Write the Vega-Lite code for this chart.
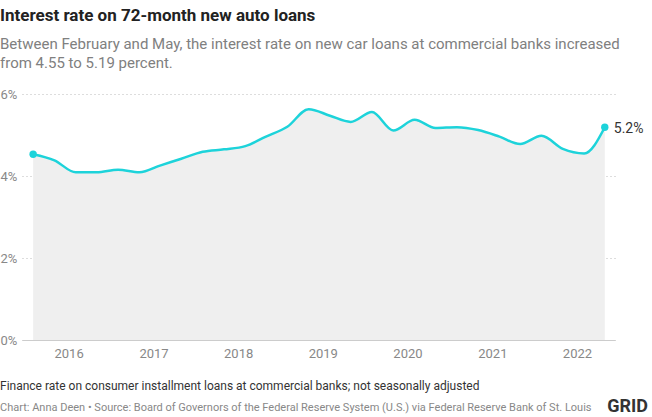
{
  "$schema": "https://vega.github.io/schema/vega-lite/v6.json",
  "width": 593,
  "height": 246,
  "autosize": {"type": "none"},
  "padding": {"left": 22, "top": 94, "right": 37, "bottom": 77},
  "background": "white",
  "config": {"font": "Roboto", "view": {"stroke": null}},
  "title": {
    "text": "Interest rate on 72-month new auto loans",
    "subtitle": ["Between February and May, the interest rate on new car loans at commercial banks increased", "from 4.55 to 5.19 percent."],
    "anchor": "start",
    "frame": "group",
    "dx": -22,
    "offset": 16,
    "fontSize": 17,
    "fontWeight": "bold",
    "color": "#222222",
    "subtitleFont": "Roboto",
    "subtitleFontSize": 15,
    "subtitleColor": "#808080",
    "subtitlePadding": 12,
    "subtitleLineHeight": 19
  },
  "data": {
    "values": [
      {"date": "2015-08-01", "rate": 0.0453},
      {"date": "2015-11-01", "rate": 0.0438},
      {"date": "2016-02-01", "rate": 0.0409},
      {"date": "2016-05-01", "rate": 0.0409},
      {"date": "2016-08-01", "rate": 0.0415},
      {"date": "2016-11-01", "rate": 0.0409},
      {"date": "2017-02-01", "rate": 0.0426},
      {"date": "2017-05-01", "rate": 0.0442},
      {"date": "2017-08-01", "rate": 0.0459},
      {"date": "2017-11-01", "rate": 0.0465},
      {"date": "2018-02-01", "rate": 0.0473},
      {"date": "2018-05-01", "rate": 0.0496},
      {"date": "2018-08-01", "rate": 0.0520},
      {"date": "2018-11-01", "rate": 0.0563},
      {"date": "2019-02-01", "rate": 0.0547},
      {"date": "2019-05-01", "rate": 0.0532},
      {"date": "2019-08-01", "rate": 0.0556},
      {"date": "2019-11-01", "rate": 0.0511},
      {"date": "2020-02-01", "rate": 0.0537},
      {"date": "2020-05-01", "rate": 0.0517},
      {"date": "2020-08-01", "rate": 0.0519},
      {"date": "2020-11-01", "rate": 0.0512},
      {"date": "2021-02-01", "rate": 0.0496},
      {"date": "2021-05-01", "rate": 0.0478},
      {"date": "2021-08-01", "rate": 0.0498},
      {"date": "2021-11-01", "rate": 0.0466},
      {"date": "2022-02-01", "rate": 0.0455},
      {"date": "2022-05-01", "rate": 0.0519}
    ]
  },
  "layer": [
    {
      "mark": {"type": "area", "interpolate": "monotone", "color": "#efefef"},
      "encoding": {
        "x": {
          "field": "date", "type": "temporal",
          "scale": {"domain": [{"year": 2015, "month": 6, "date": 14}, {"year": 2022, "month": 6, "date": 14}]},
          "axis": {"title": null, "format": "%Y", "tickCount": "year", "grid": false, "ticks": false, "domainColor": "#cccccc", "labelColor": "#888888", "labelFontSize": 13, "labelPadding": 7}
        },
        "y": {
          "field": "rate", "type": "quantitative",
          "scale": {"domain": [0, 0.06], "nice": false},
          "axis": {"title": null, "format": ".0%", "values": [0, 0.02, 0.04, 0.06], "grid": true, "gridDash": [1, 3], "gridColor": "#bbbbbb", "domain": false, "ticks": false, "labelAlign": "left", "labelPadding": 22, "labelColor": "#888888", "labelFontSize": 13, "labelBaseline": "middle"}
        }
      }
    },
    {
      "mark": {"type": "line", "interpolate": "monotone", "color": "#1dd3da", "strokeWidth": 2.5},
      "encoding": {
        "x": {"field": "date", "type": "temporal"},
        "y": {"field": "rate", "type": "quantitative"}
      }
    },
    {
      "transform": [{"filter": "datum.date <= datetime(2015, 8, 15) || datum.date >= datetime(2022, 3, 15)"}],
      "mark": {"type": "circle", "color": "#1dd3da", "opacity": 1, "size": 55},
      "encoding": {
        "x": {"field": "date", "type": "temporal"},
        "y": {"field": "rate", "type": "quantitative"}
      }
    },
    {
      "transform": [{"filter": "datum.date >= datetime(2022, 3, 15)"}],
      "mark": {"type": "text", "align": "left", "baseline": "middle", "dx": 9, "dy": 2, "fontSize": 14, "color": "#333333"},
      "encoding": {
        "x": {"field": "date", "type": "temporal"},
        "y": {"field": "rate", "type": "quantitative"},
        "text": {"field": "rate", "type": "quantitative", "format": ".1%"}
      }
    },
    {
      "data": {"values": [{"t": "Finance rate on consumer installment loans at commercial banks; not seasonally adjusted"}]},
      "mark": {"type": "text", "align": "left", "baseline": "middle", "x": -22, "y": 292, "fontSize": 12, "color": "#333333"},
      "encoding": {"text": {"field": "t"}}
    },
    {
      "data": {"values": [{"t": "Chart: Anna Deen • Source: Board of Governors of the Federal Reserve System (U.S.) via Federal Reserve Bank of St. Louis"}]},
      "mark": {"type": "text", "align": "left", "baseline": "middle", "x": -22, "y": 314, "fontSize": 11, "color": "#888888"},
      "encoding": {"text": {"field": "t"}}
    },
    {
      "data": {"values": [{"t": "GRID"}]},
      "mark": {"type": "text", "align": "right", "baseline": "middle", "x": 626, "y": 313, "fontSize": 18, "fontWeight": "bold", "color": "#333333"},
      "encoding": {"text": {"field": "t"}}
    }
  ]
}
